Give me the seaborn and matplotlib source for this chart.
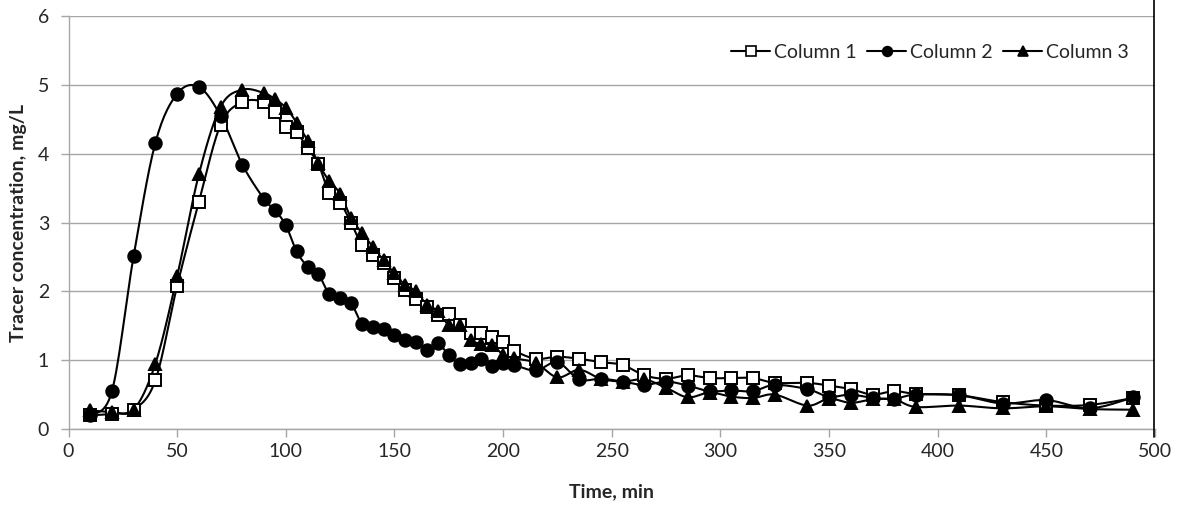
import numpy as np
import pandas as pd
import matplotlib
matplotlib.use("Agg")
import matplotlib.pyplot as plt
from matplotlib.lines import Line2D
import seaborn as sns

time_min = [10, 20, 30, 40, 50, 60, 70, 80, 90, 95, 100, 105, 110, 115, 120, 125,
            130, 135, 140, 145, 150, 155, 160, 165, 170, 175, 180, 185, 190, 195,
            200, 205, 215, 225, 235, 245, 255, 265, 275, 285, 295, 305, 315, 325,
            340, 350, 360, 370, 380, 390, 410, 430, 450, 470, 490]

column_1 = [0.20, 0.22, 0.28, 0.71, 2.08, 3.30, 4.42, 4.75, 4.75, 4.60, 4.39, 4.31,
            4.08, 3.85, 3.43, 3.29, 3.00, 2.67, 2.53, 2.41, 2.20, 2.02, 1.89, 1.77,
            1.66, 1.67, 1.51, 1.39, 1.39, 1.33, 1.26, 1.14, 1.02, 1.05, 1.02, 0.97,
            0.93, 0.78, 0.73, 0.78, 0.74, 0.74, 0.74, 0.67, 0.67, 0.63, 0.58, 0.50,
            0.55, 0.51, 0.49, 0.39, 0.34, 0.35, 0.45]

column_2 = [0.20, 0.55, 2.52, 4.16, 4.87, 4.97, 4.55, 3.84, 3.34, 3.18, 2.96, 2.58,
            2.36, 2.25, 1.96, 1.90, 1.83, 1.53, 1.48, 1.45, 1.36, 1.29, 1.27, 1.15,
            1.25, 1.07, 0.95, 0.96, 1.01, 0.92, 0.96, 0.93, 0.85, 0.97, 0.72, 0.73,
            0.69, 0.64, 0.69, 0.63, 0.55, 0.56, 0.55, 0.64, 0.58, 0.47, 0.50, 0.45,
            0.44, 0.50, 0.49, 0.37, 0.42, 0.30, 0.46]

column_3 = [0.27, 0.25, 0.28, 0.95, 2.22, 3.70, 4.68, 4.93, 4.88, 4.79, 4.67, 4.45,
            4.19, 3.86, 3.60, 3.42, 3.07, 2.85, 2.65, 2.45, 2.26, 2.09, 2.00, 1.80,
            1.72, 1.51, 1.51, 1.29, 1.24, 1.22, 1.08, 1.03, 0.96, 0.75, 0.86, 0.73,
            0.69, 0.72, 0.60, 0.46, 0.53, 0.47, 0.45, 0.50, 0.34, 0.44, 0.38, 0.43,
            0.43, 0.32, 0.34, 0.30, 0.33, 0.29, 0.28]

series_names = ["Column 1", "Column 2", "Column 3"]
x_ticks = [0, 50, 100, 150, 200, 250, 300, 350, 400, 450, 500]
y_ticks = [0, 1, 2, 3, 4, 5, 6]


def smooth_curve(x, y, n=16):
    """Excel-style smoothed line (Bezier through the data points)."""
    pts = np.column_stack([x, y]).astype(float)
    out = []
    for i in range(len(pts) - 1):
        p0 = pts[i - 1] if i > 0 else pts[i]
        p1, p2 = pts[i], pts[i + 1]
        p3 = pts[i + 2] if i + 2 < len(pts) else pts[i + 1]
        c1 = p1 + (p2 - p0) / 6.0
        c2 = p2 - (p3 - p1) / 6.0
        t = np.linspace(0, 1, n)[:, None]
        seg = (1 - t) ** 3 * p1 + 3 * (1 - t) ** 2 * t * c1 + 3 * (1 - t) * t ** 2 * c2 + t ** 3 * p2
        out.append(seg if i == 0 else seg[1:])
    return np.vstack(out)


sns.set_theme(style="white")
plt.rcParams["font.family"] = ["Lato", "DejaVu Sans"]

fig = plt.figure(figsize=(11.78, 5.08), dpi=100)
ax = fig.add_axes([68.5 / 1178, 1 - 429 / 508, (1155 - 68.5) / 1178, (429 - 16) / 508])

markers = {"Column 1": "s", "Column 2": "o", "Column 3": "^"}
faces = {"Column 1": "white", "Column 2": "black", "Column 3": "black"}
msize = {"Column 1": 8.5, "Column 2": 9, "Column 3": 9}

# smoothed lines
curve_frames = []
for name, vals in zip(series_names, [column_1, column_2, column_3]):
    c = smooth_curve(time_min, vals)
    curve_frames.append(pd.DataFrame({"t": c[:, 0], "v": c[:, 1], "series": name}))
curves = pd.concat(curve_frames, ignore_index=True)
sns.lineplot(data=curves, x="t", y="v", units="series", estimator=None, sort=False,
             color="black", linewidth=1.5, ax=ax, legend=False, zorder=2)

# markers
points = pd.DataFrame({
    "t": time_min * 3,
    "v": column_1 + column_2 + column_3,
    "series": sum([[n] * len(time_min) for n in series_names], []),
})
for i, name in enumerate(series_names):
    sub = points[points["series"] == name]
    ax.plot(sub["t"], sub["v"], linestyle="none", marker=markers[name],
            markersize=msize[name], markerfacecolor=faces[name],
            markeredgecolor="black", markeredgewidth=1.4, zorder=3 + i)

ax.set_xlim(0, 500)
ax.set_ylim(0, 6)
ax.set_xticks(x_ticks)
ax.set_yticks(y_ticks)
ax.grid(axis="y", color="#a6a6a6", linewidth=1.0)
ax.set_axisbelow(True)
for s in ["top", "right"]:
    ax.spines[s].set_visible(False)
for s in ["left", "bottom"]:
    ax.spines[s].set_color("#a6a6a6")
    ax.spines[s].set_linewidth(1.0)
ax.tick_params(axis="x", direction="out", length=6, width=1, color="#a6a6a6",
               labelsize=14, pad=4, bottom=True)
ax.tick_params(axis="y", direction="out", length=6, width=1, color="#a6a6a6",
               labelsize=14, pad=8, left=True)
ax.set_xlabel("Time, min", fontsize=14, fontweight="bold", labelpad=17)
ax.set_ylabel("Tracer concentration, mg/L", fontsize=14, fontweight="bold")
ax.yaxis.set_label_coords((27 - 68.5) / 1086.5, 0.5)

handles = [Line2D([0], [0], color="black", linewidth=1.5, marker=markers[n],
                  markersize=7, markerfacecolor=faces[n], markeredgecolor="black",
                  markeredgewidth=1.2) for n in series_names]
ax.legend(handles, series_names, loc="upper right", ncol=3, frameon=False,
          fontsize=14, handlelength=2.0, handletextpad=0.2, columnspacing=0.55,
          bbox_to_anchor=(0.992, 0.975))

# outer chart border on the right (upper part, ends just below the axis)
fig.add_artist(Line2D([1154 / 1178, 1154 / 1178], [1 - 437 / 508, 1],
                      color="black", linewidth=1.2))

fig.savefig("out.png", dpi=100)
